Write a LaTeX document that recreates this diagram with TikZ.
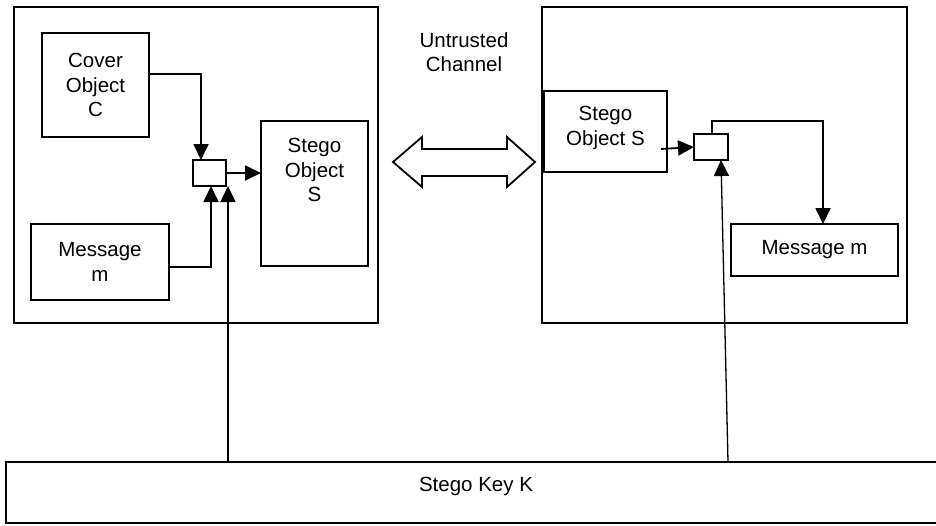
\documentclass[tikz,border=0pt]{standalone}
\usepackage{fontspec}
\setmainfont{Liberation Sans}
\usetikzlibrary{arrows.meta,calc}
\begin{document}
\begin{tikzpicture}[x=1pt,y=-1pt,
 box/.style={draw,line width=1.8pt,rectangle,inner sep=0pt,outer sep=0pt,anchor=north west,
   font=\fontsize{20.5}{24.5}\selectfont,align=center},
 lbl/.style={font=\fontsize{20.5}{24.5}\selectfont,align=center,inner sep=0pt},
 arr/.style={line width=1.8pt,-{Triangle[length=16pt,width=15pt]}},
 karr/.style={line width=1.3pt,-{Triangle[length=16pt,width=15pt]}}]
\useasboundingbox (0,0) rectangle (936,525);
\fill[white] (0,0) rectangle (936,525);
% outer boxes
\node[box,minimum width=364,minimum height=316] (sender) at (14,7) {};
\node[box,minimum width=365,minimum height=316] (receiver) at (542,7) {};
% sender side
\node[box,minimum width=107,minimum height=104] (cover) at (42,33) {Cover\\Object\\C};
\node[box,minimum width=107,minimum height=145] (stegoL) at (261,121) {};
\node[lbl] (stegoLtxt) at (314.5,170) {Stego\\Object\\S};
\node[box,minimum width=138,minimum height=76] (msgL) at (31,224) {Message\\m};
\node[box,minimum width=33,minimum height=26] (smallL) at (193,160) {};
% receiver side
\node[box,minimum width=123,minimum height=81] (stegoR) at (544,91) {};
\node[lbl] (stegoRtxt) at (605.5,128) {Stego\\Object S};
\node[box,minimum width=34,minimum height=26] (smallR) at (694,134) {};
\node[box,minimum width=167,minimum height=52] (msgR) at (731,224) {Message m};
% key
\node[box,minimum width=934,minimum height=61] (key) at (6,462) {};
\node[lbl] (keytxt) at (476,486) {Stego Key K};
% channel
\node[lbl] (chan) at (464,52) {Untrusted\\Channel};
\draw[line width=1.8pt,line join=miter]
  (393,162) -- (422,137) -- (422,149) -- (507,149) -- (507,137) -- (535,162)
  -- (507,187) -- (507,176) -- (422,176) -- (422,187) -- cycle;
% sender connectors
\draw[arr] ($(cover.north east)+(0,41)$) -| ($(smallL.north west)+(8,0)$);
\draw[arr] ($(msgL.north east)+(0,43)$) -| ($(smallL.south west)+(18,0)$);
\draw[arr] (smallL.east) -- (smallL.east -| stegoL.west);
\draw[karr] ($(key.north west)+(222,0)$) -- ($(smallL.south east)+(2,0)$);
% receiver connectors
\draw[arr] ($(stegoR.east)+(-6,17.5)$) -- (smallR.west);
\draw[arr] ($(smallR.north west)+(18,0)$) -- ++(0,-13) -| ($(msgR.north west)+(92,0)$);
\draw[karr] ($(key.north west)+(722,0)$) -- ($(smallR.south west)+(27,0)$);
\end{tikzpicture}
\end{document}
